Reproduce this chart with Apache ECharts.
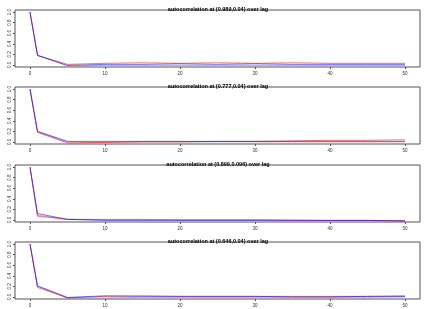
<!DOCTYPE html>
<html><head><meta charset="utf-8">
<script src="https://cdn.jsdelivr.net/npm/echarts@6/dist/echarts.min.js"></script>
<style>html,body{margin:0;padding:0;background:#fff}#c{width:436px;height:309px}</style>
</head><body><div id="c"></div>
<script>
const lags = [0,1,5,10,15,20,25,30,35,40,45,50];
const titles = [
  "autocorrelation at (0.989,0.04) over lag",
  "autocorrelation at (0.777,0.04) over lag",
  "autocorrelation at (0.899,0.096) over lag",
  "autocorrelation at (0.646,0.04) over lag"
];
const xTicks = [0,10,20,30,40,50];
const yTicks = [0,0.2,0.4,0.6,0.8,1.0];
const red1  = [1,0.18,0.01,0.03,0.04,0.03,0.04,0.03,0.04,0.03,0.03,0.03];
const blue1 = [1,0.18,-0.01,0.01,0.01,0.02,0.01,0.02,0.01,0.01,0.01,0.01];
const gray1 = [1,0.18,-0.02,-0.01,-0.01,-0.01,-0.01,-0.01,-0.01,-0.01,-0.01,-0.01];
const red2  = [1,0.18,-0.02,-0.01,0.0,0.0,0.01,0.01,0.02,0.03,0.03,0.04];
const blue2 = [1,0.20,0.01,0.01,0.01,0.01,0.01,0.01,0.01,0.01,0.01,0.01];
const gray2 = [1,0.19,0.0,-0.01,0.0,0.0,0.0,0.0,0.0,0.0,0.0,0.0];
const red3  = [1,0.07,0.01,0.0,0.0,0.0,0.0,0.0,-0.01,-0.01,-0.01,-0.02];
const blue3 = [1,0.12,0.01,-0.01,-0.01,-0.01,-0.01,-0.01,-0.01,-0.01,-0.01,-0.02];
const gray3 = [1,0.09,0.01,0.01,0.01,0.0,0.0,0.0,0.0,-0.01,-0.01,-0.01];
const red4  = [1,0.18,-0.02,0.01,0.02,0.01,0.01,0.01,0.01,0.01,0.01,0.02];
const blue4 = [1,0.21,-0.01,0.02,0.01,0.01,0.01,0.01,0.0,0.0,0.01,0.01];
const gray4 = [1,0.20,-0.02,-0.02,-0.01,-0.01,-0.01,-0.01,-0.01,-0.01,-0.01,0.0];
const panels = [[red1,blue1,gray1],[red2,blue2,gray2],[red3,blue3,gray3],[red4,blue4,gray4]];

const tops = [10, 87, 165, 242];
const H = 57;
const grid=[], xAxis=[], yAxis=[], series=[], title=[];
const colors = ['rgba(150,150,150,0.7)','rgba(255,0,0,0.55)','rgba(0,0,255,0.55)'];
panels.forEach((p,i)=>{
  grid.push({left:15, width:405, top:tops[i], height:H, show:true, borderColor:'#555', borderWidth:1, backgroundColor:'transparent'});
  title.push({text:titles[i], left:'center', top:tops[i]-9, textStyle:{fontSize:5.5, fontWeight:'bold', color:'#000', fontFamily:'Liberation Sans'}});
  xAxis.push({type:'value', gridIndex:i, min:-2, max:52,
    axisLine:{show:false, onZero:false}, splitLine:{show:false},
    axisTick:{show:true, length:2, customValues:xTicks, lineStyle:{color:'#555'}},
    axisLabel:{customValues:xTicks, fontSize:4.5, color:'#333', margin:4, fontFamily:'Liberation Sans'}});
  yAxis.push({type:'value', gridIndex:i, min:-0.04, max:1.04,
    axisLine:{show:false, onZero:false}, splitLine:{show:false},
    axisTick:{show:true, length:2, customValues:yTicks, lineStyle:{color:'#555'}},
    axisLabel:{customValues:yTicks, fontSize:4.5, color:'#333', margin:3, rotate:90, fontFamily:'Liberation Sans', formatter:v=>v.toFixed(1)}});
  const order=[p[2],p[0],p[1]];
  order.forEach((arr,k)=>{
    series.push({type:'line', xAxisIndex:i, yAxisIndex:i, showSymbol:false, symbol:'none', animation:false,
      data:lags.map((l,j)=>[l,arr[j]]), lineStyle:{width:1, color:colors[k]}});
  });
});
const chart = echarts.init(document.getElementById('c'));
chart.setOption({animation:false, title, grid, xAxis, yAxis, series});
</script></body></html>
